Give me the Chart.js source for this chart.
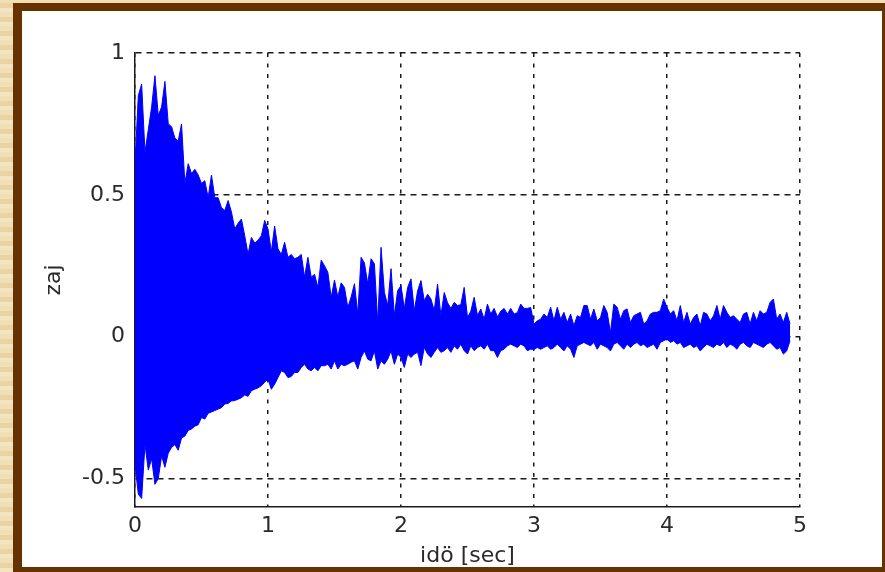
<!DOCTYPE html>
<html>
<head>
<meta charset="utf-8">
<script src="https://cdn.jsdelivr.net/npm/chart.js@4"></script>
<style>
  html, body { margin: 0; padding: 0; }
  body {
    width: 885px; height: 572px; overflow: hidden; position: relative;
    background-color: #efdcae;
    background-image:
      repeating-linear-gradient(0deg, rgba(255,255,255,0.25) 0 4px, rgba(190,150,90,0.12) 4px 9px, rgba(255,255,255,0.1) 9px 14px);
  }
  #frame {
    position: absolute; left: 13px; top: 3px;
    width: 860px; height: 556px;
    border-style: solid; border-color: #663300;
    border-width: 8px 9px 9px 9px;
    background: #fff;
  }
  canvas { display: block; }
</style>
</head>
<body>
<div id="frame"><canvas id="noiseChart" width="860" height="556"></canvas></div>
<script>
// mintavételi lépés (sec)
const sampleStep = 0.025;

// felső burkoló csúcsok (0 .. 4.925 sec)
const upperPeaks = [
  0.61, 0.85, 0.89, 0.65, 0.73, 0.81, 0.92, 0.78, 0.81, 0.90,
  0.75, 0.74, 0.70, 0.69, 0.75, 0.54, 0.61, 0.575, 0.59, 0.57,
  0.54, 0.55, 0.49, 0.57, 0.49, 0.49, 0.455, 0.445, 0.48, 0.44,
  0.38, 0.40, 0.415, 0.356, 0.29, 0.35, 0.33, 0.34, 0.356, 0.41,
  0.38, 0.30, 0.39, 0.31, 0.29, 0.333, 0.28, 0.29, 0.275, 0.28,
  0.29, 0.21, 0.28, 0.21, 0.22, 0.174, 0.27, 0.25, 0.227, 0.139,
  0.20, 0.14, 0.19, 0.174, 0.103, 0.14, 0.187, 0.08, 0.28, 0.26,
  0.187, 0.275, 0.257, 0.05, 0.315, 0.157, 0.11, 0.24, 0.075, 0.163,
  0.18, 0.10, 0.174, 0.204, 0.092, 0.162, 0.198, 0.127, 0.15, 0.133,
  0.092, 0.186, 0.074, 0.156, 0.12, 0.10, 0.121, 0.11, 0.113, 0.174,
  0.068, 0.09, 0.139, 0.075, 0.098, 0.062, 0.115, 0.08, 0.10, 0.07,
  0.09, 0.10, 0.08, 0.10, 0.08, 0.085, 0.115, 0.10, 0.10, 0.103,
  0.045, 0.056, 0.062, 0.08, 0.068, 0.104, 0.056, 0.104, 0.062, 0.086,
  0.05, 0.08, 0.039, 0.074, 0.068, 0.11, 0.11, 0.062, 0.098, 0.056,
  0.068, 0.11, 0.086, 0.015, 0.115, 0.104, 0.062, 0.092, 0.098, 0.05,
  0.074, 0.08, 0.086, 0.045, 0.056, 0.08, 0.086, 0.086, 0.092, 0.133,
  0.104, 0.08, 0.092, 0.056, 0.11, 0.05, 0.086, 0.045, 0.068, 0.08,
  0.039, 0.086, 0.08, 0.056, 0.074, 0.11, 0.062, 0.11, 0.086, 0.068,
  0.074, 0.062, 0.05, 0.08, 0.086, 0.045, 0.086, 0.056, 0.092, 0.08,
  0.086, 0.121, 0.133, 0.062, 0.08, 0.05, 0.086, 0.045
];

// alsó burkoló csúcsok
const lowerPeaks = [
  -0.45, -0.555, -0.57, -0.38, -0.47, -0.43, -0.52, -0.50, -0.42, -0.46,
  -0.41, -0.39, -0.38, -0.40, -0.357, -0.35, -0.33, -0.325, -0.315, -0.31,
  -0.285, -0.29, -0.27, -0.265, -0.26, -0.255, -0.25, -0.237, -0.235, -0.226,
  -0.225, -0.22, -0.215, -0.205, -0.21, -0.19, -0.185, -0.18, -0.173, -0.16,
  -0.149, -0.185, -0.167, -0.144, -0.12, -0.126, -0.144, -0.14, -0.126, -0.126,
  -0.108, -0.097, -0.114, -0.12, -0.108, -0.12, -0.102, -0.102, -0.097, -0.114,
  -0.085, -0.114, -0.097, -0.102, -0.097, -0.09, -0.085, -0.114, -0.073, -0.05,
  -0.079, -0.085, -0.05, -0.114, -0.085, -0.097, -0.079, -0.05, -0.097, -0.061,
  -0.073, -0.108, -0.061, -0.073, -0.061, -0.055, -0.102, -0.038, -0.061, -0.073,
  -0.055, -0.038, -0.055, -0.049, -0.038, -0.055, -0.032, -0.044, -0.026, -0.049,
  -0.061, -0.032, -0.049, -0.038, -0.032, -0.044, -0.026, -0.049, -0.049, -0.073,
  -0.049, -0.044, -0.032, -0.026, -0.032, -0.038, -0.026, -0.032, -0.049, -0.044,
  -0.044, -0.038, -0.044, -0.038, -0.032, -0.044, -0.038, -0.026, -0.038, -0.05,
  -0.032, -0.044, -0.073, -0.032, -0.026, -0.02, -0.026, -0.032, -0.02, -0.044,
  -0.026, -0.032, -0.038, -0.05, -0.026, -0.02, -0.032, -0.044, -0.026, -0.038,
  -0.026, -0.02, -0.032, -0.026, -0.038, -0.032, -0.026, -0.044, -0.02, -0.014,
  -0.008, -0.02, -0.014, -0.026, -0.02, -0.038, -0.032, -0.026, -0.038, -0.032,
  -0.05, -0.038, -0.026, -0.032, -0.038, -0.026, -0.032, -0.02, -0.038, -0.026,
  -0.032, -0.044, -0.026, -0.02, -0.032, -0.038, -0.02, -0.026, -0.032, -0.038,
  -0.026, -0.02, -0.032, -0.044, -0.038, -0.061, -0.05, -0.014
];

const xTicks = [0, 1, 2, 3, 4, 5];
const yTicks = [-0.5, 0, 0.5, 1];

const upperPts = upperPeaks.map((v, i) => ({ x: i * sampleStep, y: v }));
const lowerPts = lowerPeaks.map((v, i) => ({ x: i * sampleStep, y: v }));

Chart.defaults.font.family = '"DejaVu Sans", sans-serif';
Chart.defaults.font.size = 22;
Chart.defaults.color = '#2a2a2a';

const blue = '#0000ff';
const ink = '#1a1a1a';

new Chart(document.getElementById('noiseChart').getContext('2d'), {
  type: 'line',
  data: {
    datasets: [
      { data: upperPts, borderColor: blue, backgroundColor: blue, borderWidth: 1, fill: '+1', pointRadius: 0, tension: 0 },
      { data: lowerPts, borderColor: blue, backgroundColor: blue, borderWidth: 1, fill: false, pointRadius: 0, tension: 0 }
    ]
  },
  options: {
    responsive: false,
    animation: false,
    events: [],
    layout: { padding: { left: 0, top: 42, right: 82, bottom: 0 } },
    plugins: { legend: { display: false }, tooltip: { enabled: false } },
    scales: {
      x: {
        type: 'linear',
        min: 0, max: 5,
        afterBuildTicks: (s) => { s.ticks = xTicks.map(v => ({ value: v })); },
        afterFit: (s) => { s.height = 60; },
        ticks: { padding: 6, maxRotation: 0, callback: (v) => String(v) },
        grid: { color: ink, lineWidth: 1.5, drawTicks: false },
        border: { display: true, color: ink, width: 1.5, dash: [4, 6.5] },
        title: { display: true, text: 'idö [sec]', font: { size: 22, lineHeight: 1 }, padding: { top: 0, bottom: 0 } }
      },
      y: {
        type: 'linear',
        min: -0.6, max: 1,
        afterBuildTicks: (s) => { s.ticks = yTicks.map(v => ({ value: v })); },
        afterFit: (s) => { s.width = 113; },
        ticks: { padding: 10, callback: (v) => String(v) },
        grid: { color: ink, lineWidth: 1.5, drawTicks: false },
        border: { display: true, color: ink, width: 1.5, dash: [6, 5] },
        title: { display: true, text: 'zaj', font: { size: 22, lineHeight: 1 }, padding: { top: 21, bottom: 0 } }
      }
    }
  }
});
</script>
</body>
</html>
